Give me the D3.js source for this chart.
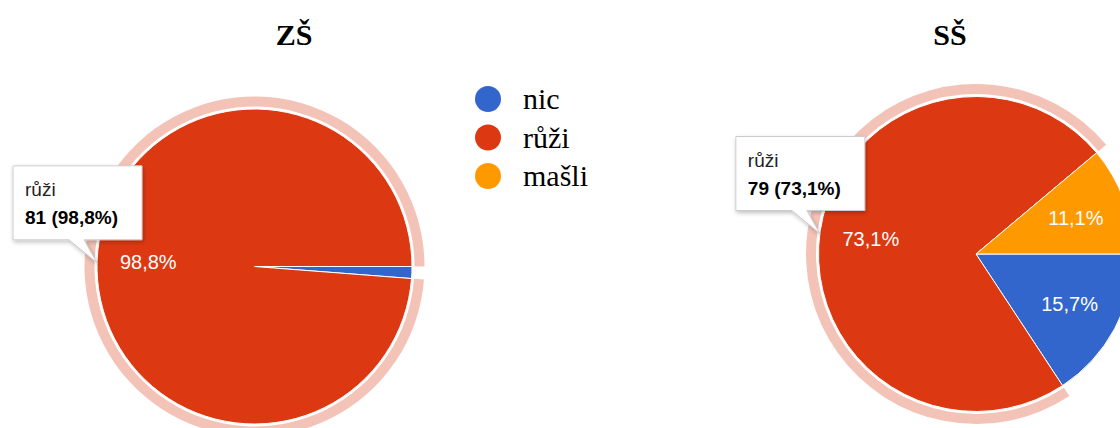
<!DOCTYPE html>
<html>
<head>
<meta charset="utf-8">
<script src="https://cdn.jsdelivr.net/npm/d3@7"></script>
<style>
  html, body { margin: 0; padding: 0; background: #fff; overflow: hidden; }
  svg { display: block; }
</style>
</head>
<body>
<div id="chart"></div>
<script>
// data
const categories = ['nic', 'růži', 'mašli']
const zsValues = [1, 81, 0]
const ssValues = [17, 79, 12]
const titles = ['ZŠ', 'SŠ']
const highlighted = 'růži'

const COLORS = { 'nic': '#3366cc', 'růži': '#dc3912', 'mašli': '#ff9900' }

const width = 1120
const height = 428
const radius = 157.5

const svg = d3.select('#chart')
  .append('svg')
  .attr('width', width)
  .attr('height', height)

const defs = svg.append('defs')
const shadow = defs.append('filter').attr('id', 'shadow')
  .attr('x', '-20%').attr('y', '-20%').attr('width', '150%').attr('height', '160%')
shadow.append('feDropShadow')
  .attr('dx', 1).attr('dy', 2).attr('stdDeviation', 2)
  .attr('flood-color', '#000').attr('flood-opacity', 0.25)

const pie = d3.pie().sort(null).value(d => d.value)
  .startAngle(Math.PI / 2).endAngle(Math.PI / 2 + 2 * Math.PI)
const arc = d3.arc().innerRadius(0).outerRadius(radius)
const ringArc = d3.arc().innerRadius(radius + 2.5).outerRadius(radius + 12.5)
const fmt = v => (v * 100).toFixed(1).replace('.', ',') + '%'

const charts = [
  { title: titles[0], values: zsValues, cx: 254.5, cy: 266.5, titleX: 294 },
  { title: titles[1], values: ssValues, cx: 976, cy: 254, titleX: 950 }
]

charts.forEach(c => {
  const rows = categories.map((name, i) => ({ name, value: c.values[i] }))
  const total = d3.sum(rows, d => d.value)
  const arcs = pie(rows)

  svg.append('text')
    .attr('x', c.titleX)
    .attr('y', 45)
    .attr('text-anchor', 'middle')
    .attr('font-family', '"Liberation Serif", "Times New Roman", serif')
    .attr('font-weight', 'bold')
    .attr('font-size', '30px')
    .attr('fill', '#000')
    .text(c.title)

  const g = svg.append('g').attr('transform', `translate(${c.cx},${c.cy})`)

  // hover ring round the selected slice
  const sel = arcs.find(a => a.data.name === highlighted)
  g.append('path')
    .attr('d', ringArc(sel))
    .attr('fill', COLORS[highlighted])
    .attr('fill-opacity', 0.3)

  g.selectAll('path.slice')
    .data(arcs.filter(a => a.data.value > 0))
    .join('path')
    .attr('class', 'slice')
    .attr('d', arc)
    .attr('fill', d => COLORS[d.data.name])
    .attr('stroke', '#fff')
    .attr('stroke-width', 1)

  // slice labels
  g.selectAll('text.lbl')
    .data(arcs.filter(a => a.data.value / total > 0.05))
    .join('text')
    .attr('class', 'lbl')
    .each(function (d) {
      const a = (d.startAngle + d.endAngle) / 2
      const rr = radius * 0.675
      d3.select(this)
        .attr('x', Math.sin(a) * rr)
        .attr('y', -Math.cos(a) * rr)
    })
    .attr('dy', '0.35em')
    .attr('text-anchor', 'middle')
    .attr('font-family', '"Liberation Sans", Arial, sans-serif')
    .attr('font-size', '20px')
    .attr('fill', '#fff')
    .text(d => fmt(d.data.value / total))

  // tooltip of the selected slice
  const ta = (sel.startAngle + sel.endAngle) / 2 - 0.015
  const tx = c.cx + Math.sin(ta) * radius
  const ty = c.cy - Math.cos(ta) * radius
  const bx = tx - 84, by = ty - 97, bw = 129, bh = 74
  const tip = svg.append('g')
  tip.append('path')
    .attr('d', `M${bx},${by}H${bx + bw}V${by + bh}H${tx - 13}L${tx},${ty}L${tx - 28},${by + bh}H${bx}Z`)
    .attr('fill', '#fff')
    .attr('stroke', '#ccc')
    .attr('stroke-width', 1)
    .attr('filter', 'url(#shadow)')
  tip.append('text')
    .attr('x', bx + 12)
    .attr('y', by + 30)
    .attr('font-family', '"Liberation Sans", Arial, sans-serif')
    .attr('font-size', '19px')
    .attr('fill', '#222')
    .text(sel.data.name)
  tip.append('text')
    .attr('x', bx + 12)
    .attr('y', by + 58)
    .attr('font-family', '"Liberation Sans", Arial, sans-serif')
    .attr('font-size', '19px')
    .attr('font-weight', 'bold')
    .attr('fill', '#000')
    .text(`${sel.data.value} (${fmt(sel.data.value / total)})`)
})

// Legend
const legend = svg.append('g').attr('transform', 'translate(488,0)')
categories.forEach((name, i) => {
  const base = 109 + i * 38.5
  legend.append('circle')
    .attr('cx', 0)
    .attr('cy', base - 10)
    .attr('r', 13)
    .attr('fill', COLORS[name])
  legend.append('text')
    .attr('x', 35)
    .attr('y', base)
    .attr('font-family', '"Liberation Serif", "Times New Roman", serif')
    .attr('font-size', '30px')
    .attr('fill', '#000')
    .text(name)
})
</script>
</body>
</html>
